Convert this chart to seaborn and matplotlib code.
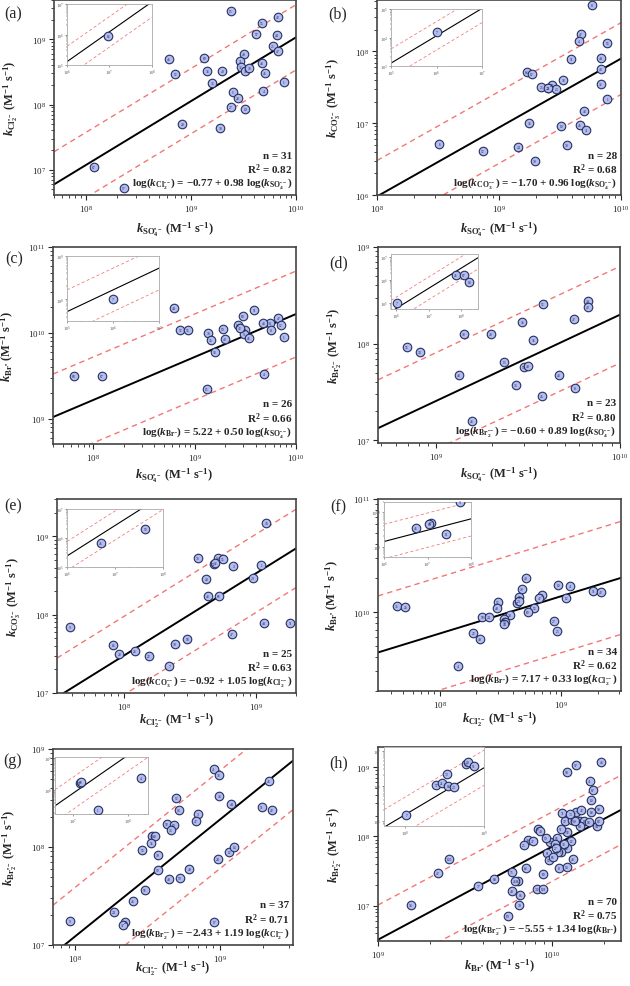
import numpy as np
import matplotlib
matplotlib.use("Agg")
import matplotlib.pyplot as plt
import seaborn as sns
from matplotlib.ticker import LogLocator, NullFormatter

sns.set_style("ticks")
plt.rcParams['font.family'] = ['Liberation Serif', 'DejaVu Serif']
plt.rcParams['mathtext.fontset'] = 'custom'
plt.rcParams['mathtext.rm'] = 'Liberation Serif:bold'
plt.rcParams['mathtext.it'] = 'Liberation Serif:italic:bold'
plt.rcParams['mathtext.bf'] = 'Liberation Serif:bold'
plt.rcParams['mathtext.fallback'] = 'stix'

# ---- data (M^-1 s^-1) ----
# (a) k_Cl2 vs k_SO4
a_x = [2.4e9, 4.7e9, 6.7e9, 4.2e9, 6.6e9, 6.0e9, 6.7e9, 3.2e9, 2.95e9, 6.2e8, 1.34e9, 4.7e9, 3.0e9,
       3.3e9, 3.6e9, 1.43e9, 2.0e9, 5.1e9, 7.1e8, 7.7e9, 1.6e9, 2.5e9, 4.9e9, 2.8e9, 2.4e9, 3.3e9,
       8.3e8, 1.9e9, 1.2e8, 2.3e8]
a_y = [2.7e9, 1.8e9, 2.2e9, 1.2e9, 1.15e9, 7.9e8, 6.5e8, 5.9e8, 4.7e8, 5.0e8, 5.2e8, 4.3e8, 3.7e8,
       3.3e8, 3.6e8, 3.3e8, 3.3e8, 3.0e8, 2.9e8, 2.2e8, 2.1e8, 1.55e8, 1.6e8, 1.24e8, 9.3e7, 8.4e7,
       5.0e7, 4.3e7, 1.1e7, 5.3e6]
a_id = [15, 53, 42, 57, 44, 25, 47, 48, 31, 46, 60, 43, 32, 35, 38, 33, 40, 45, 52, 1, 36, 5, 4, 28,
        27, 19, 20, 30, 67, 17]
a_in_x = [9.3e6]
a_in_y = [8.9e5]
a_in_id = [16]

# (b) k_CO3 vs k_SO4
b_x = [5.8e9, 4.7e9, 4.5e9, 7.7e9, 3.9e9, 6.8e9, 6.8e9, 1.7e9, 1.85e9, 3.36e9, 2.7e9, 2.5e9, 2.23e9,
       2.96e9, 2.53e9, 6.8e9, 7.7e9, 5.0e9, 1.77e9, 3.25e9, 4.6e9, 5.2e9, 3.25e8, 1.44e9, 3.6e9,
       7.4e8, 1.96e9]
b_y = [4.4e8, 1.75e8, 1.4e8, 1.3e8, 7.8e7, 8.0e7, 5.7e7, 5.1e7, 4.8e7, 4.0e7, 3.4e7, 3.05e7, 3.15e7,
       3.0e7, 3.1e7, 3.5e7, 2.2e7, 1.5e7, 1.0e7, 9.0e6, 9.5e6, 8.1e6, 5.2e6, 4.6e6, 4.9e6, 4.1e6,
       3.0e6]
b_id = [8, 47, 4, 53, 51, 44, 40, 64, 62, 38, 27, 22, 25, 23, 21, 32, 1, 43, 33, 19, 45, 31, 6, 24,
        30, 52, 39]
b_in_x = [1.0e6]
b_in_y = [1.5e4]
b_in_id = [7]

# (c) k_Br vs k_SO4
c_x = [6.2e8, 3.86e9, 2.98e9, 6.7e9, 5.6e9, 7.1e9, 2.65e9, 3.14e9, 5.7e9, 7.2e8, 8.5e8, 1.9e9,
       1.36e9, 3.07e9, 7.6e9, 1.45e9, 1.99e9, 3.4e9, 1.58e9, 6.4e7, 1.22e8, 4.8e9, 1.31e9, 4.76e9,
       2.8e9]
c_y = [1.96e10, 1.84e10, 1.57e10, 1.5e10, 1.32e10, 1.23e10, 1.23e10, 1.09e10, 1.09e10, 1.09e10,
       1.09e10, 1.12e10, 1.0e10, 9.6e9, 9.0e9, 8.2e9, 8.4e9, 8.75e9, 6.0e9, 3.15e9, 3.15e9, 3.35e9,
       2.24e9, 1.32e10, 1.15e10]
c_id = [44, 51, 60, 47, 11, 12, 54, 49, 8, 52, 53, 50, 30, 9, 1, 33, 40, 45, 38, 68, 67, 4, 15, 43, 42]
c_in_x = [1.0e6]
c_in_y = [1.0e8]
c_in_id = [7]

# (d) k_Br2 vs k_SO4
d_x = [6.7e9, 6.7e9, 3.8e9, 5.6e9, 2.94e9, 1.41e9, 1.97e9, 3.37e9, 6.9e8, 8.1e8, 2.34e9, 3.0e9,
       3.16e9, 1.33e9, 4.65e9, 2.7e9, 5.7e9, 3.74e9, 1.56e9]
d_y = [2.76e8, 2.4e8, 2.55e8, 1.8e8, 1.66e8, 1.27e8, 1.27e8, 1.08e8, 9.25e7, 8.3e7, 6.5e7, 5.8e7,
       5.9e7, 4.8e7, 4.8e7, 3.7e7, 3.5e7, 2.9e7, 1.6e7]
d_id = [44, 42, 52, 47, 33, 30, 40, 35, 53, 34, 13, 50, 49, 48, 43, 36, 8, 45, 46]
d_in_x = [1.05e6, 6.8e7, 1.2e8, 1.78e8]
d_in_y = [1.0e5, 1.66e6, 1.66e6, 8.5e5]
d_in_id = [7, 45, 67, 18]

# (e) k_CO3 vs k_Cl2
e_x = [1.19e9, 3.6e8, 5.1e8, 5.6e8, 4.75e8, 4.9e8, 6.7e8, 1.09e9, 4.2e8, 9.4e8, 4.3e8, 5.2e8, 3.9e7,
       1.14e9, 1.81e9, 6.5e8, 8.3e7, 3.0e8, 2.43e8, 9.2e7, 1.21e8, 1.53e8, 2.2e8]
e_y = [1.5e9, 5.3e8, 5.3e8, 5.15e8, 4.45e8, 4.6e8, 4.2e8, 4.3e8, 2.87e8, 2.9e8, 1.73e8, 1.73e8, 7.0e7,
       7.9e7, 7.9e7, 5.6e7, 4.1e7, 4.85e7, 4.2e7, 3.13e7, 3.45e7, 3.0e7, 2.2e7]
e_id = [34, 76, 54, 55, 52, 32, 3, 1, 28, 29, 43, 66, 9, 44, 51, 47, 16, 58, 39, 20, 26, 22, 7]
e_in_x = [5.0e6, 4.3e7]
e_in_y = [6.6e5, 2.1e6]
e_in_id = [45, 50]

# (f) k_Br vs k_Cl2
f_x = [5.1e8, 4.76e8, 6.95e8, 1.84e9, 9.4e8, 1.19e9, 2.13e9, 1.1e9, 6.6e8, 4.5e8, 4.3e8, 4.5e8,
       3.0e8, 2.93e8, 6.0e8, 5.3e8, 3.77e8, 4.45e7, 5.2e7, 2.24e8, 2.54e8, 3.37e8, 3.44e8, 3.4e8,
       8.7e8, 9.3e8, 1.89e8, 2.14e8, 1.4e8]
f_y = [1.98e10, 1.59e10, 1.41e10, 1.53e10, 1.73e10, 1.7e10, 1.5e10, 1.32e10, 1.32e10, 1.37e10,
       1.21e10, 1.24e10, 1.23e10, 1.09e10, 1.09e10, 1.0e10, 9.5e9, 1.13e10, 1.11e10, 9.0e9, 9.0e9,
       8.6e9, 8.15e9, 7.9e9, 8.3e9, 6.8e9, 6.5e9, 5.8e9, 3.3e9]
f_id = [40, 30, 3, 51, 10, 41, 42, 12, 47, 33, 34, 29, 52, 48, 53, 60, 28, 36, 26, 58, 24, 46, 50,
        44, 27, 25, 22, 49, 4]
f_in_x = [5.4e6, 1.2e7, 1.1e7, 2.7e7, 5.6e7]
f_in_y = [3.5e9, 5.0e9, 4.6e9, 2.4e9, 2.0e10]
f_in_id = [45, 67, 68, 11, 9]

# (g) k_Br2 vs k_Cl2
g_x = [9.1e8, 9.8e8, 2.18e9, 9.9e8, 5.0e8, 1.2e9, 1.95e9, 2.29e9, 5.2e8, 7.0e8, 6.8e8, 4.3e8, 4.8e8,
       4.57e8, 3.4e8, 3.54e8, 3.35e8, 2.9e8, 3.73e8, 1.16e9, 1.26e9, 9.7e8, 3.7e8, 4.45e8, 5.3e8,
       6.15e8, 3.03e8, 2.5e8, 1.85e8, 2.22e8, 2.13e8, 9.1e8, 9.2e7]
g_y = [6.2e8, 5.4e8, 4.7e8, 3.3e8, 3.16e8, 2.77e8, 2.56e8, 2.4e8, 2.37e8, 2.19e8, 1.84e8, 1.7e8,
       1.69e8, 1.5e8, 1.29e8, 1.31e8, 1.1e8, 9.25e7, 8.35e7, 8.9e7, 1.0e8, 7.6e7, 5.8e7, 4.75e7,
       4.86e7, 5.9e7, 3.67e7, 2.8e7, 2.17e7, 1.72e7, 1.59e7, 1.72e7, 1.76e7]
g_id = [41, 38, 45, 33, 52, 44, 51, 42, 54, 3, 47, 58, 60, 36, 30, 40, 35, 53, 39, 12, 14, 28, 50,
        48, 59, 49, 56, 46, 24, 26, 37, 17, 9]
g_in_x = [1.32e7, 1.38e7, 1.74e8, 2.8e7]
g_in_y = [1.62e6, 1.74e6, 2.34e6, 2.45e5]
g_in_id = [67, 68, 4, 1]

# (h) k_Br2 vs k_Br
h_x = [1.93e10, 1.37e10, 1.22e10, 1.65e10, 1.72e10, 1.69e10, 1.15e10, 1.37e10, 1.48e10, 1.69e10,
       1.87e10, 1.19e10, 1.3e10, 1.45e10, 1.54e10, 1.45e10, 1.82e10, 1.87e10, 8.3e9, 8.6e9, 1.23e10,
       7.3e9, 6.9e9, 9.8e9, 1.07e10, 1.04e10, 1.29e10, 1.22e10, 1.13e10, 9.4e9, 1.08e10, 9.6e9,
       1.01e10, 1.32e10, 1.1e10, 1.22e10, 2.56e9, 2.2e9, 7.1e9, 5.9e9, 8.95e9, 6.4e9, 4.67e9, 3.78e9,
       5.9e9, 6.6e9, 8.2e9, 8.95e9, 6.5e9, 1.54e9, 5.6e9, 9.2e9, 1.17e10, 6.1e9, 1.05e10, 1.36e10,
       1.63e10, 1.13e10, 7.8e9, 1.28e10]
h_y = [1.17e9, 1.08e9, 8.6e8, 6.2e8, 4.7e8, 3.34e8, 2.17e8, 2.22e8, 2.43e8, 2.22e8, 2.48e8, 1.68e8,
       1.72e8, 1.68e8, 1.68e8, 1.43e8, 1.43e8, 1.68e8, 1.28e8, 1.18e8, 1.17e8, 8.85e7, 7.6e7, 8.2e7,
       9.35e7, 7.75e7, 8.7e7, 6.7e7, 5.9e7, 5.75e7, 5.9e7, 4.56e7, 4.98e7, 4.8e7, 3.5e7, 3.66e7,
       4.8e7, 2.96e7, 3.45e7, 3.1e7, 2.86e7, 2.3e7, 2.43e7, 1.94e7, 1.64e7, 1.44e7, 1.74e7, 1.74e7,
       1.02e7, 1.03e7, 7.2e6, 9.35e7, 7.75e7, 2.3e7, 6.9e7, 1.68e8, 1.59e8, 1.28e8, 8.7e7, 2.1e8]
h_id = [46, 97, 98, 41, 87, 10, 71, 7, 42, 83, 99, 72, 79, 38, 81, 84, 94, 82, 59, 40, 92, 39, 25,
        57, 56, 62, 12, 65, 13, 61, 67, 55, 66, 43, 8, 54, 100, 47, 64, 75, 60, 85, 89, 77, 48, 86,
        74, 103, 78, 93, 69, 50, 34, 26, 27, 80, 88, 91, 37, 73]
h_in_x = [1.05e8, 2.5e8, 2.95e8, 3.4e8, 3.55e8, 4.2e8, 6.0e8, 6.3e8, 7.4e8]
h_in_y = [1.45e5, 1.05e6, 1.17e6, 2.14e6, 1.0e6, 9.3e5, 4.2e6, 4.7e6, 3.6e6]
h_in_id = [7, 57, 21, 73, 18, 23, 13, 90, 91]

# regression coefficients, n and R2 per panel
intercepts = [-0.77, -1.70, 5.22, -0.60, -0.92, 7.17, -2.43, -5.55]
slopes = [0.98, 0.96, 0.50, 0.89, 1.05, 0.33, 1.19, 1.34]
n_pts = [31, 28, 26, 23, 25, 34, 37, 70]
r2_vals = [0.82, 0.68, 0.66, 0.80, 0.63, 0.62, 0.71, 0.75]
band = 0.5  # +/- log units for dashed lines

SO4 = r'$k_{\mathrm{SO_4^{•−}}}$'
CL2 = r'$k_{\mathrm{Cl_2^{•−}}}$'
CO3 = r'$k_{\mathrm{CO_3^{•−}}}$'
BR = r'$k_{\mathrm{Br^{•}}}$'
BR2 = r'$k_{\mathrm{Br_2^{•−}}}$'
UNIT = r' (M$^{−1}$ s$^{−1}$)'

W, H = 630, 987
fig = plt.figure(figsize=(W / 100, H / 100), dpi=100)


def px_axes(l, t, r, b):
    return fig.add_axes([l / W, 1 - b / H, (r - l) / W, (b - t) / H])


def style_log(ax, xlim, ylim, small=False):
    ax.set_xscale('log')
    ax.set_yscale('log')
    ax.set_xlim(*xlim)
    ax.set_ylim(*ylim)
    for axis in (ax.xaxis, ax.yaxis):
        axis.set_major_locator(LogLocator(base=10))
        axis.set_minor_locator(LogLocator(base=10, subs=np.arange(2, 10)))
        axis.set_minor_formatter(NullFormatter())
    if small:
        ax.tick_params(which='major', length=1.5, width=0.4, labelsize=3.3, pad=0.8, colors='#555555')
        ax.tick_params(which='minor', length=0.8, width=0.3)
        for s in ax.spines.values():
            s.set_color('#aaaaaa')
            s.set_linewidth(0.6)
    else:
        ax.tick_params(which='major', length=3.5, width=0.8, labelsize=6.5, pad=2)
        ax.tick_params(which='minor', length=2, width=0.6)
        for s in ax.spines.values():
            s.set_color('#444444')
            s.set_linewidth(1.2)


def draw_lines(ax, a, b, xlim, small=False):
    xx = np.logspace(np.log10(xlim[0]), np.log10(xlim[1]), 50)
    yy = 10 ** (a + b * np.log10(xx))
    lw = 0.8 if small else 1.4
    ax.plot(xx, yy, color='black', lw=lw, zorder=2)
    for off in (band, -band):
        ax.plot(xx, yy * 10 ** off, color='#f27575', lw=lw * 0.7, dashes=(4, 3), zorder=1)


def draw_points(ax, xs, ys, ids):
    sns.scatterplot(x=xs, y=ys, ax=ax, s=38, color='#b3bcef', edgecolor='#27315e',
                    linewidth=0.8, zorder=3, legend=False)
    for x, y, i in zip(xs, ys, ids):
        ax.text(x, y, str(i), fontsize=2.6, ha='center', va='center', color='#1c2045', zorder=4)


panels = [
    dict(box=(54, 1, 296, 196), inbox=(67, 5, 152, 66), x=a_x, y=a_y, ids=a_id,
         inx=a_in_x, iny=a_in_y, inid=a_in_id, xlim=(5e7, 1e10), ylim=(4.1e6, 4e9),
         inxlim=(1e6, 1e8), inylim=(1e5, 1e7), xl=SO4, yl=CL2, letter='(a)', lp=(13, 14), xo=34),
    dict(box=(377, 1, 621, 196), inbox=(391, 10, 482, 67), x=b_x, y=b_y, ids=b_id,
         inx=b_in_x, iny=b_in_y, inid=b_in_id, xlim=(1e8, 1e10), ylim=(1e6, 5.2e8),
         inxlim=(1e5, 1e7), inylim=(1e3, 1e5), xl=SO4, yl=CO3, letter='(b)', lp=(338, 14), xo=34),
    dict(box=(53, 248, 296, 445), inbox=(67, 257, 159, 322), x=c_x, y=c_y, ids=c_id,
         inx=c_in_x, iny=c_in_y, inid=c_in_id, xlim=(4.0e7, 1e10), ylim=(5.1e8, 1e11),
         inxlim=(1e5, 1e7), inylim=(3.2e7, 1e9), xl=SO4, yl=BR, letter='(c)', lp=(14, 259), xo=31),
    dict(box=(378, 248, 620, 444), inbox=(391, 255, 478, 310), x=d_x, y=d_y, ids=d_id,
         inx=d_in_x, iny=d_in_y, inid=d_in_id, xlim=(4.8e8, 1e10), ylim=(9.4e6, 1e9),
         inxlim=(6.9e5, 3.3e8), inylim=(5.2e4, 1.4e7), xl=SO4, yl=BR2, letter='(d)', lp=(339, 263),
         xo=31),
    dict(box=(57, 500, 296, 694), inbox=(67, 510, 163, 568), x=e_x, y=e_y, ids=e_id,
         inx=e_in_x, iny=e_in_y, inid=e_in_id, xlim=(3.1e7, 2.0e9), ylim=(1e7, 3.0e9),
         inxlim=(1e6, 1e8), inylim=(1e5, 1e7), xl=CL2, yl=CO3, letter='(e)', lp=(13, 506), xo=27),
    dict(box=(378, 500, 621, 692), inbox=(384, 503, 471, 558), x=f_x, y=f_y, ids=f_id,
         inx=f_in_x, iny=f_in_y, inid=f_in_id, xlim=(3.1e7, 3.1e9), ylim=(2.0e9, 1e11),
         inxlim=(1e6, 1e8), inylim=(5e8, 2e10), xl=CL2, yl=BR, letter='(f)', lp=(338, 507), xo=28),
    dict(box=(53, 750, 293, 946), inbox=(55, 758, 148, 815), x=g_x, y=g_y, ids=g_id,
         inx=g_in_x, iny=g_in_y, inid=g_in_id, xlim=(7.0e7, 3.2e9), ylim=(1e7, 1e9),
         inxlim=(4.7e6, 2.3e8), inylim=(1.8e5, 1.07e7), xl=CL2, yl=BR2, letter='(g)', lp=(13, 761),
         xo=23),
    dict(box=(378, 748, 621, 942), inbox=(384, 748, 484, 827), x=h_x, y=h_y, ids=h_id,
         inx=h_in_x, iny=h_in_y, inid=h_in_id, xlim=(1e9, 2.5e10), ylim=(3.1e6, 1.95e9),
         inxlim=(5.5e7, 1e9), inylim=(7.2e4, 1.26e7), xl=BR, yl=BR2, letter='(h)', lp=(339, 763),
         xo=24),
]

for k, p in enumerate(panels):
    ax = px_axes(*p['box'])
    style_log(ax, p['xlim'], p['ylim'])
    draw_lines(ax, intercepts[k], slopes[k], p['xlim'])
    draw_points(ax, p['x'], p['y'], p['ids'])
    ax.set_xlim(*p['xlim'])
    ax.set_ylim(*p['ylim'])
    ax.set_xlabel(p['xl'] + UNIT, fontsize=9, fontweight='bold', va='center')
    ax.set_ylabel(p['yl'] + UNIT, fontsize=9, fontweight='bold', labelpad=9)
    box_h = p['box'][3] - p['box'][1]
    ax.xaxis.set_label_coords(0.5, -p['xo'] / box_h)

    a, b = intercepts[k], slopes[k]
    sign = '−' if a < 0 else ''
    eq = 'log(' + p['yl'] + ') = ' + sign + f'{abs(a):.2f} + {b:.2f} log(' + p['xl'] + ')'
    ax.text(0.985, 0.205, f'n = {n_pts[k]}', transform=ax.transAxes, ha='right', va='center',
            fontsize=8, fontweight='bold')
    ax.text(0.985, 0.135, r'R$^2$ = ' + f'{r2_vals[k]:.2f}', transform=ax.transAxes, ha='right',
            va='center', fontsize=8, fontweight='bold')
    ax.text(0.985, 0.06, eq, transform=ax.transAxes, ha='right', va='center',
            fontsize=8, fontweight='bold')

    fig.text(p['lp'][0] / W, 1 - p['lp'][1] / H, p['letter'], fontsize=11.5, ha='center', va='center')

    ins = px_axes(*p['inbox'])
    ins.set_facecolor('white')
    style_log(ins, p['inxlim'], p['inylim'], small=True)
    draw_lines(ins, a, b, p['inxlim'], small=True)
    draw_points(ins, p['inx'], p['iny'], p['inid'])
    ins.set_xlim(*p['inxlim'])
    ins.set_ylim(*p['inylim'])

fig.savefig('out.png', dpi=100)
